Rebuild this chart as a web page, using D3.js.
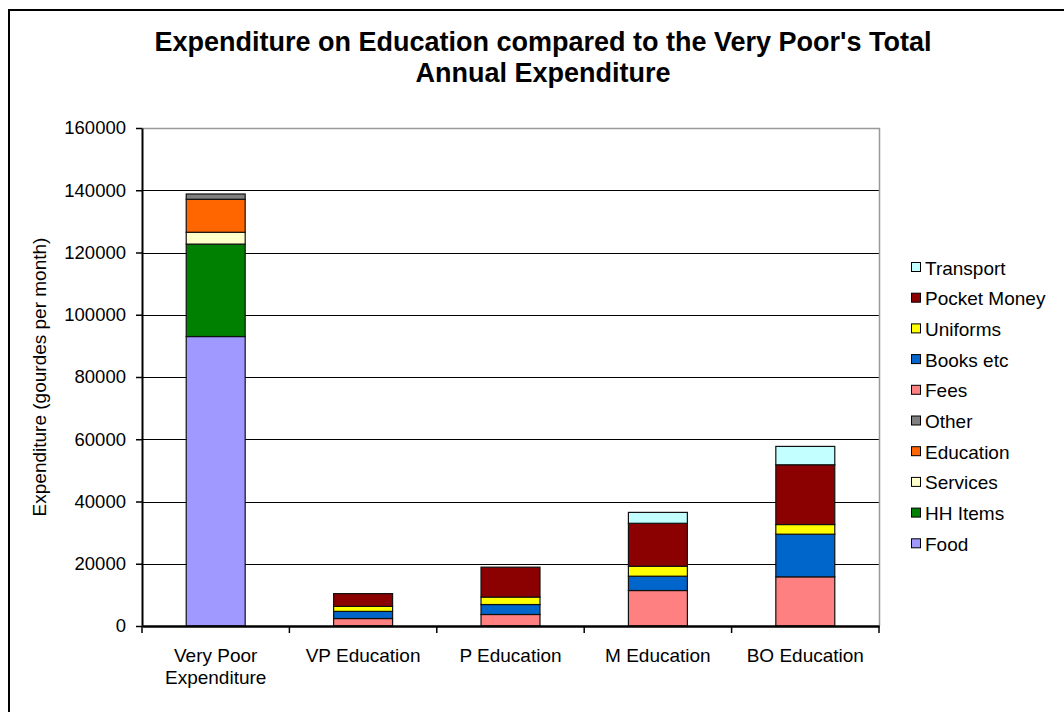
<!DOCTYPE html>
<html>
<head>
<meta charset="utf-8">
<script src="https://cdn.jsdelivr.net/npm/d3@7"></script>
<style>
  html, body { margin: 0; padding: 0; background: #fff; }
  svg { display: block; font-family: "Liberation Sans", Arial, sans-serif; }
</style>
</head>
<body>
<svg id="chart" width="1064" height="712"></svg>
<script>
// Categories along the x axis
const categories = ["Very Poor Expenditure", "VP Education", "P Education", "M Education", "BO Education"];
const categoryLines = [["Very Poor", "Expenditure"], ["VP Education"], ["P Education"], ["M Education"], ["BO Education"]];

// Stack order, bottom to top (gourdes per month)
const seriesNames = ["Food", "HH Items", "Services", "Education", "Other",
                     "Fees", "Books etc", "Uniforms", "Pocket Money", "Transport"];
const seriesColors = ["#a099ff", "#008000", "#ffffcc", "#ff6600", "#808080",
                      "#ff8080", "#0066cc", "#ffff00", "#8b0000", "#c4ffff"];

const food        = [93000, 0, 0, 0, 0];
const hhItems     = [29700, 0, 0, 0, 0];
const services    = [3800, 0, 0, 0, 0];
const education   = [10600, 0, 0, 0, 0];
const other       = [1700, 0, 0, 0, 0];
const fees        = [0, 2400, 3700, 11400, 15800];
const books       = [0, 2300, 3200, 4600, 13700];
const uniforms    = [0, 1600, 2400, 3200, 3100];
const pocketMoney = [0, 4100, 9600, 13800, 19200];
const transport   = [0, 0, 0, 3500, 5900];

const yTicks = [0, 20000, 40000, 60000, 80000, 100000, 120000, 140000, 160000];

const seriesValues = [food, hhItems, services, education, other,
                      fees, books, uniforms, pocketMoney, transport];

// Rows for d3.stack
const rows = categories.map((c, i) => {
  const r = { category: c };
  seriesNames.forEach((s, k) => { r[s] = seriesValues[k][i]; });
  return r;
});
const stacked = d3.stack().keys(seriesNames)(rows);

const svg = d3.select("#chart");

// Outer chart frame
svg.append("path")
  .attr("d", "M9,712 V10 H1064")
  .attr("fill", "none").attr("stroke", "#000").attr("stroke-width", 2);

const plot = { left: 142, right: 879, top: 128, bottom: 626 };

const x = d3.scaleBand().domain(categories).range([plot.left, plot.right]).padding(0);
const y = d3.scaleLinear().domain([0, 160000]).range([plot.bottom, plot.top]);
const barW = x.bandwidth() * 0.4;

// Gridlines
svg.append("g").selectAll("line").data(yTicks.filter(t => t > 0 && t < 160000)).join("line")
  .attr("x1", plot.left).attr("x2", plot.right)
  .attr("y1", d => Math.round(y(d)) + 0.5).attr("y2", d => Math.round(y(d)) + 0.5)
  .attr("stroke", "#000").attr("stroke-width", 1);

// Plot area top and right edges
svg.append("path")
  .attr("d", `M${plot.left},${plot.top + 0.5} H${plot.right + 0.5} V${plot.bottom}`)
  .attr("fill", "none").attr("stroke", "#999").attr("stroke-width", 1.5);

// Stacked bars
svg.append("g").selectAll("g").data(stacked).join("g")
  .attr("fill", (d, i) => seriesColors[i])
  .selectAll("rect").data(d => d.filter(p => p[1] - p[0] > 0)).join("rect")
  .attr("x", d => x(d.data.category) + (x.bandwidth() - barW) / 2)
  .attr("width", barW)
  .attr("y", d => y(d[1]))
  .attr("height", d => y(d[0]) - y(d[1]))
  .attr("stroke", "#111").attr("stroke-width", 1.2);

// Y axis
const yAxis = d3.axisLeft(y).tickValues(yTicks).tickSize(6).tickSizeOuter(0).tickPadding(10)
  .tickFormat(d3.format("d"));
const gy = svg.append("g").attr("transform", `translate(${plot.left},0)`).call(yAxis);
gy.select(".domain").attr("stroke", "#000").attr("stroke-width", 2);
gy.selectAll(".tick line").attr("stroke", "#000").attr("stroke-width", 1.5);
gy.selectAll(".tick text").attr("font-size", 18.5).attr("fill", "#000")
  .attr("font-family", "Liberation Sans, Arial, sans-serif");

// X axis
const xAxis = d3.axisBottom(x).tickSize(0).tickFormat("");
const gx = svg.append("g").attr("transform", `translate(0,${plot.bottom})`).call(xAxis);
gx.select(".domain").attr("stroke", "#000").attr("stroke-width", 2.5);
gx.selectAll(".tick").remove();
// Category separators
const seps = categories.map(c => x(c)).concat([x(categories[categories.length - 1]) + x.bandwidth()]);
svg.append("g").selectAll("line").data(seps).join("line")
  .attr("x1", d => d).attr("x2", d => d)
  .attr("y1", plot.bottom).attr("y2", plot.bottom + 7)
  .attr("stroke", "#000").attr("stroke-width", 1.5);

// Category labels
svg.append("g").selectAll("text").data(categories).join("text")
  .attr("x", d => x(d) + x.bandwidth() / 2)
  .attr("y", 662)
  .attr("text-anchor", "middle").attr("font-size", 19).attr("fill", "#000")
  .each(function (d, i) {
    categoryLines[i].forEach((line, j) => {
      d3.select(this).append("tspan")
        .attr("x", x(d) + x.bandwidth() / 2)
        .attr("dy", j === 0 ? 0 : 22)
        .text(line);
    });
  });

// Y axis title
svg.append("text")
  .attr("transform", "translate(46,377) rotate(-90)")
  .attr("text-anchor", "middle").attr("font-size", 19).attr("fill", "#000")
  .text("Expenditure (gourdes per month)");

// Chart title
const title = svg.append("text")
  .attr("text-anchor", "middle").attr("font-size", 27).attr("font-weight", "bold").attr("fill", "#000");
title.append("tspan").attr("x", 543).attr("y", 51)
  .text("Expenditure on Education compared to the Very Poor's Total");
title.append("tspan").attr("x", 543).attr("y", 82)
  .text("Annual Expenditure");

// Legend (reverse stack order)
const legendItems = seriesNames.map((s, i) => ({ name: s, color: seriesColors[i] })).reverse();
const legend = svg.append("g").attr("transform", "translate(911,268)");
const li = legend.selectAll("g").data(legendItems).join("g")
  .attr("transform", (d, i) => `translate(0,${i * 30.7})`);
li.append("rect")
  .attr("x", 0.5).attr("y", -5.5).attr("width", 9).attr("height", 9)
  .attr("fill", d => d.color).attr("stroke", "#000").attr("stroke-width", 1);
li.append("text")
  .attr("x", 14).attr("y", 6.5)
  .attr("font-size", 19).attr("fill", "#000")
  .text(d => d.name);
</script>
</body>
</html>
